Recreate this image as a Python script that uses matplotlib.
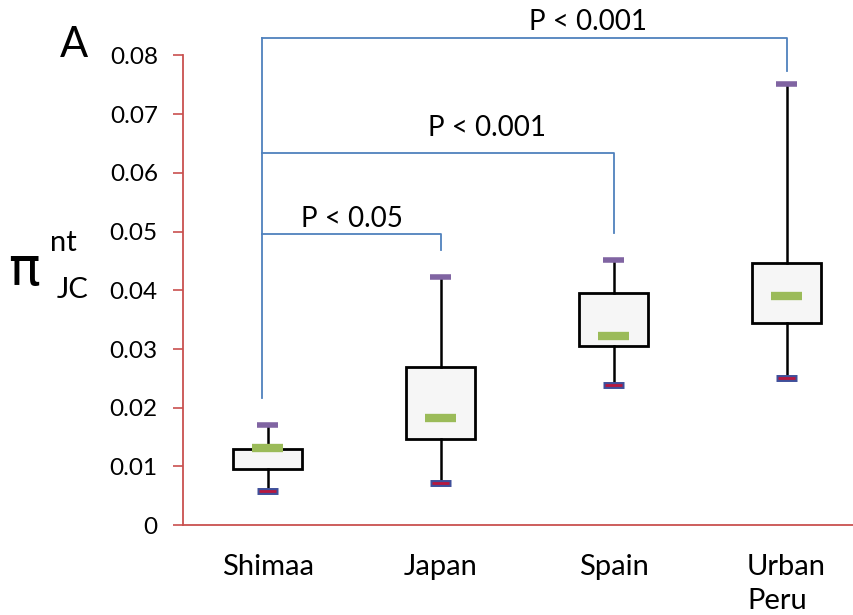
import matplotlib
matplotlib.use("Agg")
import matplotlib.pyplot as plt

plt.rcParams['font.family'] = ['Lato', 'DejaVu Sans']

groups = ["Shimaa", "Japan", "Spain", "Urban\nPeru"]
whisker_low = [0.0058, 0.0072, 0.0238, 0.0250]
box_low = [0.0095, 0.0146, 0.0305, 0.0344]
medians = [0.0131, 0.0182, 0.0323, 0.0391]
box_high = [0.0129, 0.0269, 0.0395, 0.0446]
whisker_high = [0.0170, 0.0422, 0.0451, 0.0751]

# comparisons: (from group, to group, bracket height, end of drop line, label)
comparisons = [
    (0, 3, 0.0829, 0.0774, "P < 0.001"),
    (0, 2, 0.0633, 0.0497, "P < 0.001"),
    (0, 1, 0.0495, 0.0468, "P < 0.05"),
]
bracket_start = 0.0216
label_x = [1.85, 1.27, 0.49]
label_y = [0.0857, 0.0677, 0.0522]

axis_red = '#C9504F'
bracket_blue = '#4F81BD'

fig = plt.figure(figsize=(8.54, 6.15), dpi=100)
ax = fig.add_axes([0.214, 0.146, 0.786, 0.764])

stats = []
for i in range(len(groups)):
    stats.append({
        'whislo': whisker_low[i], 'q1': box_low[i], 'med': medians[i],
        'q3': box_high[i], 'whishi': whisker_high[i], 'fliers': [],
    })

pos = list(range(len(groups)))
ax.bxp(stats, positions=pos, widths=0.4, patch_artist=True, showcaps=False,
       boxprops=dict(facecolor='#F6F6F6', edgecolor='black', linewidth=2),
       whiskerprops=dict(color='black', linewidth=1.8),
       medianprops=dict(linewidth=0))

# caps and medians as small coloured bars
for i in pos:
    ax.hlines(whisker_high[i], i - 0.058, i + 0.058, color='#8064A2', lw=4, zorder=4)
    ax.hlines(whisker_low[i], i - 0.06, i + 0.06, color='#3F4F9A', lw=5, zorder=4)
    ax.hlines(whisker_low[i], i - 0.05, i + 0.05, color='#B8183E', lw=2, zorder=5)
    ax.hlines(medians[i], i - 0.087, i + 0.087, color='#9BBB59', lw=6, zorder=5)

# significance brackets
bx = -0.03
top = max(c[2] for c in comparisons)
ax.plot([bx, bx], [bracket_start, top], color=bracket_blue, lw=1.3, clip_on=False)
for (a, b, h, end, txt), tx, ty in zip(comparisons, label_x, label_y):
    ax.plot([bx, b, b], [h, h, end], color=bracket_blue, lw=1.3, clip_on=False)
    ax.text(tx, ty, txt, ha='center', va='center', fontsize=20, clip_on=False)

ax.set_xlim(-0.49, 3.39)
ax.set_ylim(0, 0.08)
ax.set_yticks([0, 0.01, 0.02, 0.03, 0.04, 0.05, 0.06, 0.07, 0.08])
ax.set_yticklabels(['0', '0.01', '0.02', '0.03', '0.04', '0.05', '0.06', '0.07', '0.08'])
ax.set_xticks(pos)
ax.set_xticklabels(groups, fontsize=21, multialignment='left', va='top', linespacing=1.35)
ax.tick_params(axis='x', length=0, pad=21)
ax.tick_params(axis='y', length=7, width=1.2, color=axis_red, labelsize=17.5, pad=11)

for s in ['top', 'right']:
    ax.spines[s].set_visible(False)
for s in ['left', 'bottom']:
    ax.spines[s].set_color(axis_red)
    ax.spines[s].set_linewidth(1.3)

fig.text(74 / 854, 1 - 45 / 615, "A", fontsize=30, ha='center', va='center')
fig.text(8 / 854, 1 - 270 / 615, "π", fontsize=38, ha='left', va='center', family='DejaVu Sans')
fig.text(50 / 854, 1 - 243 / 615, "nt", fontsize=21, ha='left', va='center')
fig.text(57 / 854, 1 - 290 / 615, "JC", fontsize=21, ha='left', va='center')

fig.savefig("out.png", dpi=100)
